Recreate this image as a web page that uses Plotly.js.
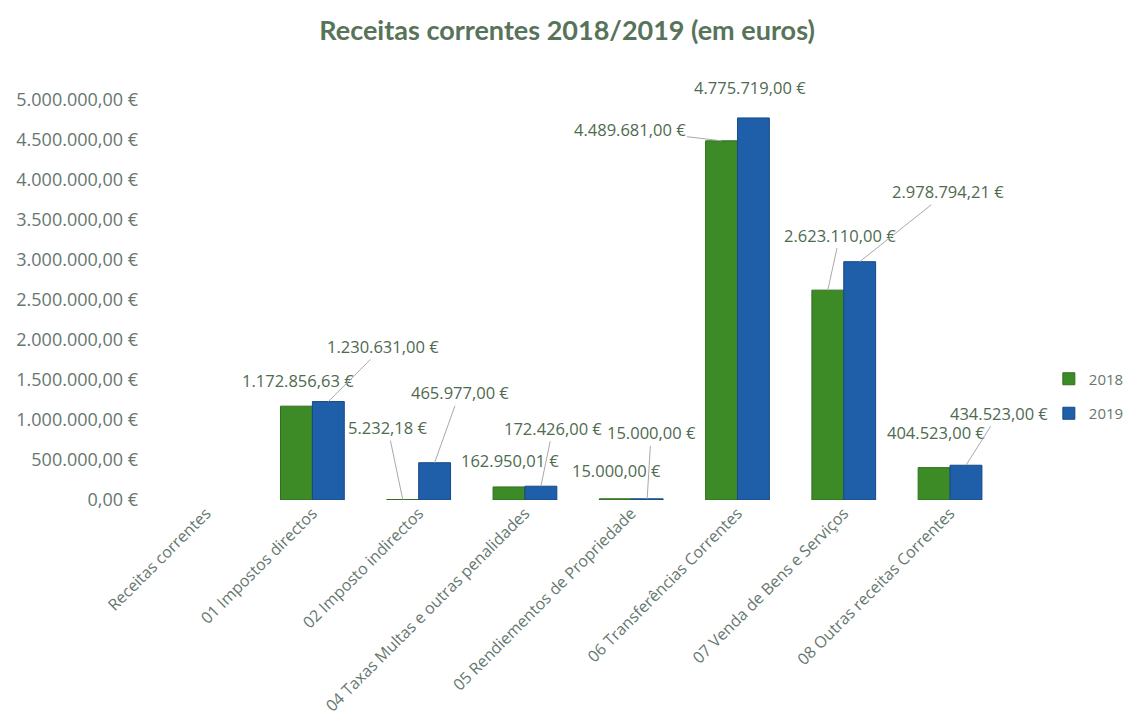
<!DOCTYPE html>
<html>
<head>
<meta charset="utf-8">
<script src="https://cdn.plot.ly/plotly-3.0.1.min.js"></script>
<style>html,body{margin:0;padding:0;background:#fff;}#chart{width:1141px;height:727px;}</style>
</head>
<body>
<div id="chart"></div>
<script>
// ---- data ----
var categories = [
  "Receitas correntes",
  "01 Impostos directos",
  "02 Imposto indirectos",
  "04 Taxas Multas e outras penalidades",
  "05 Rendiementos de Propriedade",
  "06 Transferências Correntes",
  "07 Venda de Bens e Serviços",
  "08 Outras receitas Correntes"
];
var values2018 = [null, 1172856.63, 5232.18, 162950.01, 15000.00, 4489681.00, 2623110.00, 404523.00];
var values2019 = [null, 1230631.00, 465977.00, 172426.00, 15000.00, 4775719.00, 2978794.21, 434523.00];
var seriesNames = ["2018", "2019"];
var yTickVals = [0, 500000, 1000000, 1500000, 2000000, 2500000, 3000000, 3500000, 4000000, 4500000, 5000000];

// ---- label placement (pixel offsets from the bar top, and whether a leader line shows) ----
var offsets2018 = [null, [2,-26,0], [-15,-72,1], [1,-26,0], [1,-28,0], [-92,-11,1], [12,-55,1], [2,-35,0]];
var offsets2019 = [null, [55,-55,1], [25,-70,1], [12,-58,1], [4,-66,1], [-3,-30,0], [88,-70,1], [33,-52,1]];

function fmtEuro(v) {
  var parts = v.toFixed(2).split(".");
  var intPart = parts[0].replace(/\B(?=(\d{3})+(?!\d))/g, ".");
  return intPart + "," + parts[1] + " €";
}

var green = "#3d8b26";
var blue = "#1f5ea8";
var labelColor = "#4e6a4f";
var tickColor = "#66776f";
var baseFont = "'Open Sans', Lato, sans-serif";

var traces = [
  {type: "bar", name: seriesNames[0], x: categories, y: values2018, legendgroup: "a",
   marker: {color: green, line: {color: "#2f6e1c", width: 1}}, hoverinfo: "none"},
  {type: "bar", name: seriesNames[1], x: categories, y: values2019, legendgroup: "b",
   marker: {color: blue, line: {color: "#174a86", width: 1}}, hoverinfo: "none"}
];

var annotations = [];
function addLabels(vals, offs, shift) {
  for (var i = 0; i < vals.length; i++) {
    if (vals[i] === null) continue;
    var o = offs[i];
    annotations.push({
      x: i + shift, y: vals[i], xref: "x", yref: "y",
      text: fmtEuro(vals[i]),
      showarrow: true, arrowhead: 0, arrowwidth: 1,
      arrowcolor: o[2] ? "#a9a9a9" : "rgba(0,0,0,0)",
      ax: o[0], ay: o[1],
      font: {family: baseFont, size: 16.5, color: labelColor}
    });
  }
}
addLabels(values2018, offsets2018, -0.15);
addLabels(values2019, offsets2019, 0.15);

var layout = {
  width: 1141, height: 727,
  margin: {l: 153, r: 20, t: 100, b: 227},
  paper_bgcolor: "#ffffff", plot_bgcolor: "#ffffff",
  font: {family: baseFont, color: tickColor},
  title: {text: "<b>Receitas correntes 2018/2019 (em euros)</b>", x: 0.497, xanchor: "center",
          y: 0.958, yanchor: "middle",
          font: {family: "Lato, 'Open Sans', sans-serif", size: 27, color: "#57735a"}},
  barmode: "group", bargap: 0.4, bargroupgap: 0,
  xaxis: {type: "category", range: [-0.5, 8.43], tickangle: -45, showgrid: false, zeroline: false,
          showline: false, ticks: "", automargin: false,
          tickfont: {family: baseFont, size: 16, color: tickColor}},
  yaxis: {range: [0, 5000000], tickmode: "array", tickvals: yTickVals,
          ticktext: yTickVals.map(fmtEuro), automargin: false,
          showgrid: false, zeroline: false, showline: false, ticks: "", ticklabelstandoff: 14,
          tickfont: {family: baseFont, size: 18, color: tickColor}},
  legend: {x: 0.944, xanchor: "left", y: 0.26, yanchor: "middle",
           tracegroupgap: 12, itemwidth: 30, font: {family: baseFont, size: 15, color: tickColor},
           bgcolor: "rgba(0,0,0,0)"},
  annotations: annotations,
  showlegend: true
};

Plotly.newPlot("chart", traces, layout, {displayModeBar: false, staticPlot: true});
</script>
</body>
</html>
